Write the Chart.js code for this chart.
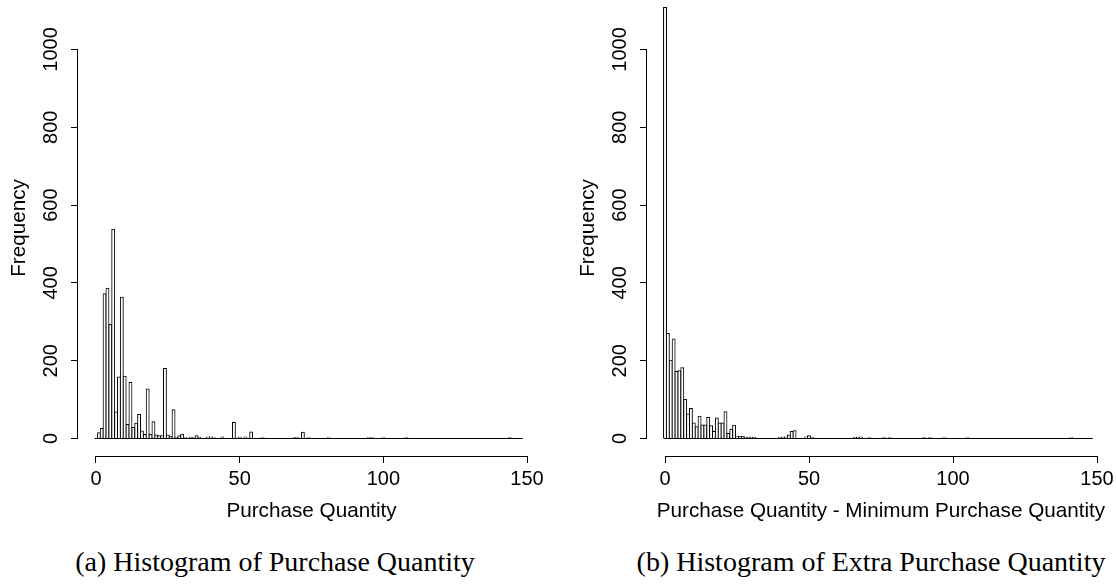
<!DOCTYPE html>
<html>
<head>
<meta charset="utf-8">
<script src="https://cdn.jsdelivr.net/npm/chart.js@4.4.1/dist/chart.umd.min.js"></script>
<style>
  html, body { margin: 0; padding: 0; background: #fff; }
  body { width: 1116px; height: 588px; position: relative; overflow: hidden; }
  canvas { position: absolute; top: 0; }
  #histA { left: 0; }
  #histB { left: 569px; }
  .caption {
    position: absolute; top: 546px; line-height: 32px;
    font-family: 'Liberation Serif', 'Times New Roman', serif; font-size: 28px; color: #000;
    transform: translateX(-50%); white-space: nowrap;
  }
</style>
</head>
<body>
<canvas id="histA" width="545" height="530"></canvas>
<canvas id="histB" width="546" height="530"></canvas>
<div class="caption" style="left:275px">(a) Histogram of Purchase Quantity</div>
<div class="caption" style="left:871px">(b) Histogram of Extra Purchase Quantity</div>
<script>
// one bin per whole number, 0..148
const bins = Array.from({ length: 149 }, (_, i) => i);

// (a) purchase quantity counts
const qtyCounts = [
  0, 15, 26, 372, 386, 293, 538, 68, 158, 363,
  160, 36, 144, 28, 39, 62, 19, 10, 127, 10,
  43, 9, 7, 7, 180, 9, 5, 74, 3, 7,
  11, 2, 1, 3, 2, 7, 3, 1, 1, 4,
  4, 2, 1, 0, 4, 1, 1, 1, 41, 1,
  3, 0, 4, 0, 17, 0, 0, 1, 2, 0,
  0, 0, 0, 0, 0, 0, 0, 0, 0, 2,
  2, 0, 16, 0, 2, 0, 0, 0, 0, 0,
  0, 2, 0, 0, 0, 0, 0, 0, 0, 0,
  0, 0, 0, 0, 0, 2, 2, 0, 0, 0,
  2, 0, 0, 0, 0, 0, 0, 0, 2, 0,
  0, 0, 0, 0, 0, 0, 0, 0, 0, 0,
  0, 0, 0, 0, 0, 0, 0, 0, 0, 0,
  0, 0, 0, 0, 0, 0, 0, 0, 0, 0,
  0, 0, 0, 0, 2, 0, 0, 0, 0
];

// (b) purchase quantity minus minimum purchase quantity
const extraCounts = [
  1108, 270, 201, 256, 172, 174, 182, 100, 63, 77,
  40, 30, 57, 35, 35, 54, 33, 18, 53, 40,
  40, 69, 13, 24, 34, 6, 5, 5, 3, 3,
  3, 3, 1, 1, 1, 1, 1, 1, 1, 1,
  3, 3, 4, 9, 18, 20, 1, 1, 0, 4,
  7, 3, 1, 0, 0, 0, 0, 0, 0, 0,
  0, 0, 0, 0, 0, 0, 3, 3, 4, 1,
  0, 2, 0, 0, 0, 0, 2, 0, 2, 0,
  0, 0, 0, 0, 0, 0, 0, 0, 0, 0,
  2, 0, 2, 0, 0, 0, 0, 2, 0, 0,
  0, 0, 0, 0, 0, 2, 0, 0, 0, 0,
  0, 0, 0, 0, 0, 0, 0, 0, 0, 0,
  0, 0, 0, 0, 0, 0, 0, 0, 0, 0,
  0, 0, 0, 0, 0, 0, 0, 0, 0, 0,
  0, 2, 0, 0, 0, 0, 0, 0, 0
];

const xTicks = [0, 50, 100, 150];
const yTicks = [0, 200, 400, 600, 800, 1000];

Chart.defaults.font.family = "'Liberation Sans', Arial, sans-serif";
Chart.defaults.font.size = 20;
Chart.defaults.color = '#000';

// R style axes: line only from first to last tick
const rAxes = {
  id: 'rAxes',
  afterDraw(chart) {
    const { ctx, scales: { x, y } } = chart;
    const align = p => Math.round(p - 0.5) + 0.5;
    ctx.save();
    ctx.strokeStyle = '#000';
    ctx.lineWidth = 1;
    ctx.beginPath();
    const bx = Math.round(x.top) + 0.5;
    ctx.moveTo(align(x.getPixelForValue(xTicks[0])), bx);
    ctx.lineTo(align(x.getPixelForValue(xTicks[xTicks.length - 1])), bx);
    const by = Math.round(y.right) - 0.5;
    ctx.moveTo(by, align(y.getPixelForValue(yTicks[0])));
    ctx.lineTo(by, align(y.getPixelForValue(yTicks[yTicks.length - 1])));
    ctx.stroke();
    ctx.restore();
  }
};

const tickGrid = { drawOnChartArea: false, drawTicks: true, tickLength: 7, color: '#000', offset: false };
const titleFont = { size: 20.7 };

function makeHist(id, counts, xTitle) {
  const ctx = document.getElementById(id).getContext('2d');
  return new Chart(ctx, {
    type: 'bar',
    data: {
      datasets: [{
        type: 'line',
        data: [{ x: bins[0] - 0.5, y: 0 }, { x: bins[bins.length - 1] + 0.5, y: 0 }],
        borderColor: '#000',
        borderWidth: 1,
        pointRadius: 0
      }, {
        data: bins.map((b, i) => ({ x: b, y: counts[i] })),
        backgroundColor: '#fff',
        borderColor: '#000',
        borderWidth: 1,
        borderSkipped: 'start',
        inflateAmount: 0.5,
        barPercentage: 1,
        categoryPercentage: 1
      }]
    },
    options: {
      responsive: false,
      animation: false,
      devicePixelRatio: 1,
      layout: { padding: 0 },
      plugins: { legend: { display: false }, tooltip: { enabled: false } },
      scales: {
        x: {
          type: 'linear',
          min: -6.25,
          max: 156.25,
          offset: false,
          grid: tickGrid,
          border: { display: false },
          ticks: { padding: 4, autoSkip: false, callback: v => String(v) },
          afterBuildTicks: s => { s.ticks = xTicks.map(v => ({ value: v })); },
          afterFit: s => { s.height = 74; s.paddingLeft = 0; s.paddingRight = 0; },
          title: { display: true, text: xTitle, font: titleFont, padding: { top: 0, bottom: 6 } }
        },
        y: {
          min: -45,
          max: 1127.2,
          grid: tickGrid,
          border: { display: false },
          ticks: { minRotation: 90, maxRotation: 90, crossAlign: 'center', padding: -3, autoSkip: false, callback: v => String(v) },
          afterBuildTicks: s => { s.ticks = yTicks.map(v => ({ value: v })); },
          afterFit: s => { s.width = 78; s.paddingTop = 0; s.paddingBottom = 0; },
          title: { display: true, text: 'Frequency', font: titleFont, padding: { top: 7, bottom: 0 } }
        }
      }
    },
    plugins: [rAxes]
  });
}

makeHist('histA', qtyCounts, 'Purchase Quantity');
makeHist('histB', extraCounts, 'Purchase Quantity - Minimum Purchase Quantity');
</script>
</body>
</html>
